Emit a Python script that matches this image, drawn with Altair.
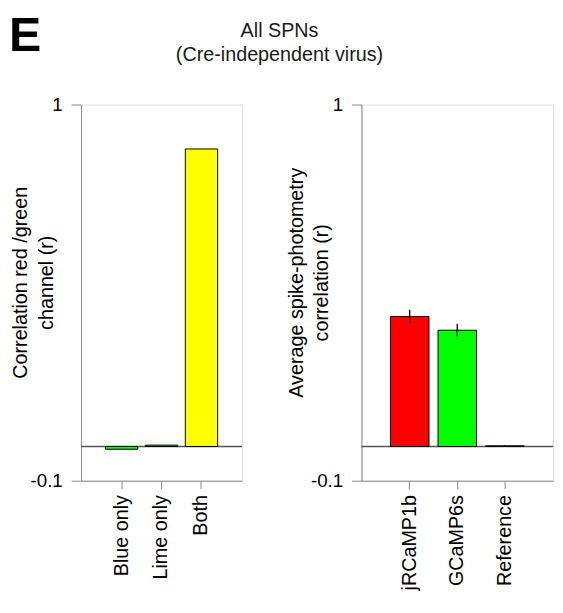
import altair as alt
import pandas as pd

# ---- data ----
left_categories = ["Blue only", "Lime only", "Both"]
left_values = [-0.008, 0.004, 0.87]
left_colors = ["#00ff00", "#00ff00", "#ffff00"]

right_categories = ["jRCaMP1b", "GCaMP6s", "Reference"]
right_values = [0.38, 0.34, 0.002]
right_errors = [0.02, 0.019, 0.002]
right_colors = ["#ff0000", "#00ff00", "#00ff00"]

y_ticks = [-0.1, 1]
panel_letter = ["E"]
heading = ["All SPNs", "(Cre-independent virus)"]
left_title = ["Correlation red /green", "channel (r)"]
right_title = ["Average spike-photometry", "correlation (r)"]

FONT = "Liberation Sans"
INK = "#1a1a1a"

left_df = pd.DataFrame({"cat": left_categories, "val": left_values, "col": left_colors})
right_df = pd.DataFrame({
    "cat": right_categories,
    "val": right_values,
    "col": right_colors,
    "lo": [v - e for v, e in zip(right_values, right_errors)],
    "hi": [v + e for v, e in zip(right_values, right_errors)],
})
zero_df = pd.DataFrame({"z": [0]})

Y_SCALE = alt.Scale(domain=[-0.1, 1], nice=False, zero=False)


def y_axis(title, title_x):
    return alt.Axis(
        values=y_ticks,
        labelExpr="datum.value > 0.5 ? '1' : '-0.1'",
        tickSize=10,
        labelPadding=9,
        labelFontSize=19,
        title=title,
        titleX=title_x,
        titleY=180,
        titleAngle=270,
        titleAlign="center",
        titleBaseline="middle",
        titleLineHeight=26,
        titleFontSize=20,
        titleFontWeight="normal",
        grid=False,
    )


def x_axis():
    return alt.Axis(
        title=None,
        labelAngle=270,
        labelAlign="right",
        labelBaseline="middle",
        labelFontSize=20,
        tickSize=8,
        labelPadding=6,
        grid=False,
    )


def panel(df, cats, title, title_x, width, errors=False, extras=None):
    xs = alt.X("cat:N", sort=cats,
               scale=alt.Scale(paddingInner=0.19, paddingOuter=0.61),
               axis=x_axis())
    zero = alt.Chart(zero_df).mark_rule(color="#555555", strokeWidth=1.6).encode(
        y=alt.Y("z:Q", scale=Y_SCALE, axis=y_axis(title, title_x))
    )
    bars = alt.Chart(df).mark_bar(stroke="black", strokeWidth=1).encode(
        x=xs,
        y=alt.Y("val:Q", scale=Y_SCALE, axis=y_axis(title, title_x)),
        color=alt.Color("col:N", scale=None),
    )
    layers = [zero, bars]
    if errors:
        err = alt.Chart(df).mark_rule(color="black", strokeWidth=1.3).encode(
            x=alt.X("cat:N", sort=cats),
            y=alt.Y("lo:Q", scale=Y_SCALE),
            y2="hi:Q",
        )
        layers.append(err)
    if extras:
        layers.extend(extras)
    return alt.layer(*layers).properties(width=width, height=381)


letter = alt.Chart(pd.DataFrame({"t": panel_letter})).mark_text(
    font=FONT, fontSize=49, fontWeight="bold", align="left", baseline="top", color="black"
).encode(text="t:N", x=alt.value(-73), y=alt.value(-93))

head = alt.Chart(pd.DataFrame({"i": [0]})).mark_text(
    font=FONT, fontSize=20, align="center", baseline="alphabetic", color=INK, lineHeight=24
).encode(text=alt.value(heading), x=alt.value(201), y=alt.value(-68))

left = panel(left_df, left_categories, left_title, -61, 163, extras=[letter, head])
right = panel(right_df, right_categories, right_title, -66, 194, errors=True)

chart = alt.hconcat(left, right, spacing=121, bounds="flush", padding=0).resolve_scale(
    x="independent", y="independent"
).configure_view(stroke=None).configure_axis(
    domainColor=INK, tickColor=INK, labelColor=INK, titleColor=INK,
    labelFont=FONT, titleFont=FONT, domainWidth=1.2, tickWidth=1.2,
).configure(background="white")

chart.save("out.html", embed_options={"renderer": "svg", "actions": False})
